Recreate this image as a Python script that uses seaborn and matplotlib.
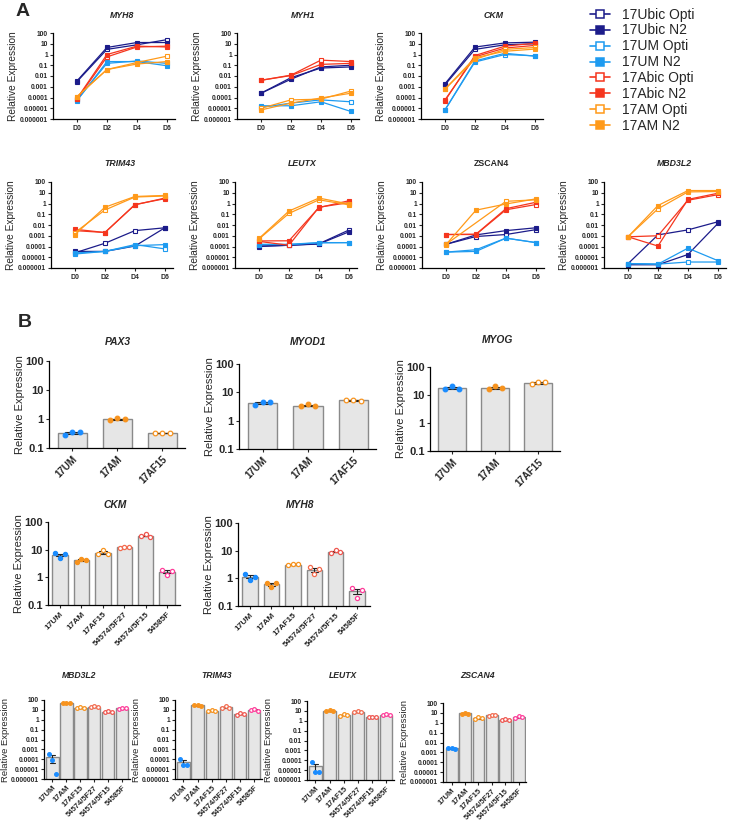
import numpy as np
import pandas as pd
import seaborn as sns
import matplotlib
matplotlib.use('Agg')
import matplotlib.pyplot as plt
from matplotlib.lines import Line2D

sns.set_style('ticks')
plt.rcParams['font.family'] = ['Liberation Sans', 'DejaVu Sans']

W, H = 739, 825

# ---------------- panel A data ----------------
days = ['D0', 'D2', 'D4', 'D6']
series = ['17Ubic Opti', '17Ubic N2', '17UM Opti', '17UM N2',
          '17Abic Opti', '17Abic N2', '17AM Opti', '17AM N2']
series_colors = ['#1c1c8a', '#1c1c8a', '#1e9bf0', '#1e9bf0',
                 '#f5361e', '#f5361e', '#ff9a1a', '#ff9a1a']
series_open = [True, False, True, False, True, False, True, False]

myh8 = [[0.003, 3, 8, 24], [0.0035, 4.5, 13, 13],
        [6e-5, 0.15, 0.25, 0.15], [5e-5, 0.22, 0.22, 0.09],
        [7e-5, 0.6, 5, 6], [8e-5, 1.0, 6, 5],
        [1.2e-4, 0.04, 0.18, 0.7], [1.2e-4, 0.04, 0.13, 0.22]]
myh1 = [[2.5e-4, 0.005, 0.07, 0.1], [2.5e-4, 0.007, 0.055, 0.07],
        [1.2e-5, 3e-5, 6e-5, 4e-5], [1.7e-5, 1.7e-5, 4e-5, 5e-6],
        [0.004, 0.012, 0.3, 0.22], [0.004, 0.011, 0.12, 0.15],
        [1e-5, 6e-5, 7e-5, 4e-4], [7e-6, 3e-5, 9e-5, 2.5e-4]]
ckm_a = [[0.0015, 3, 8, 10], [0.0019, 4.9, 12, 14],
         [7e-6, 0.2, 1.0, 0.75], [7e-6, 0.25, 1.3, 0.7],
         [6e-5, 0.6, 4, 7], [5e-5, 0.8, 6, 11],
         [6e-4, 0.35, 3, 4.5], [6e-4, 0.5, 2, 3.2]]
trim43_a = [[2.6e-5, 2e-4, 0.003, 0.0055], [3.5e-5, 3.5e-5, 1.1e-4, 0.0055],
            [2.5e-5, 3.5e-5, 1.5e-4, 6e-5], [2e-5, 3.5e-5, 1.2e-4, 1.5e-4],
            [0.003, 0.002, 0.8, 2.8], [0.004, 0.002, 0.75, 3.2],
            [0.002, 0.25, 4, 5], [0.0013, 0.45, 4.5, 5.6]]
leutx_a = [[1e-4, 1.3e-4, 1.8e-4, 3.4e-3], [1.1e-4, 1.3e-4, 1.7e-4, 2.3e-3],
           [1.5e-4, 1.6e-4, 2.3e-4, 2.3e-4], [1.6e-4, 1.5e-4, 2.2e-4, 2.3e-4],
           [3e-4, 1.3e-4, 0.45, 1.2], [3.3e-4, 3.4e-4, 0.42, 1.8],
           [5e-4, 0.12, 2.2, 0.75], [5.6e-4, 0.2, 3.2, 0.9]]
zscan4_a = [[1.6e-4, 8.5e-4, 1.3e-3, 3.7e-3], [1.6e-4, 1.2e-3, 3e-3, 5.5e-3],
            [3e-5, 5e-5, 6e-4, 2.3e-4], [3e-5, 3.5e-5, 6e-4, 2.3e-4],
            [1.3e-3, 1.3e-3, 0.26, 0.8], [1.3e-3, 1.4e-3, 0.33, 1.3],
            [1.6e-4, np.nan, 1.6, 2.2], [1.5e-4, 0.24, 0.9, 2.7]]
mbd3l2_a = [[2.5e-6, 1.2e-3, 3.5e-3, 0.02], [2e-6, 2e-6, 1.8e-5, 0.014],
            [2.6e-6, 2.3e-6, 3.6e-6, 3.6e-6], [2.6e-6, 2.3e-6, 7e-5, 4.8e-6],
            [8e-4, 1e-3, 2, 6.6], [8e-4, 1.1e-4, 2.4, 9],
            [8e-4, 0.32, 12, 13], [8e-4, 0.65, 16, 16]]

# ---------------- panel B data ----------------
groups3 = ['17UM', '17AM', '17AF15']
groups6 = ['17UM', '17AM', '17AF15', '54574/5F27', '54574/5F15', '54585F']
group_colors = {'17UM': '#1a8cff', '17AM': '#f7931e', '17AF15': '#f7931e',
                '54574/5F27': '#f26b4f', '54574/5F15': '#ef5750', '54585F': '#ff3d9a'}
group_open = {'17UM': False, '17AM': False, '17AF15': True,
              '54574/5F27': True, '54574/5F15': True, '54585F': True}

pax3 = [[0.29, 0.36, 0.36], [0.95, 1.05, 0.97], [0.32, 0.34, 0.33]]
myod1 = [[3.7, 4.6, 4.6], [3.2, 3.8, 3.2], [5.2, 5.2, 5.1]]
myog = [[16, 21, 17], [16, 21, 17.5], [24, 30, 28]]
ckm_b = [[7.6, 5.2, 6.8], [3.6, 4.6, 4.2], [6.8, 9.4, 7.2],
         [11.6, 12.7, 12], [31, 36, 29], [1.9, 1.2, 1.7]]
myh8_b = [[1.4, 0.9, 1.1], [0.66, 0.48, 0.66], [3, 3.2, 3.2],
          [2.5, 1.4, 2.2], [8.4, 10.2, 9], [0.43, 0.19, 0.39]]
mbd3l2_b = [[3.7e-4, 8e-5, 3.5e-6], [45, 52, 45], [15, 19, 16],
            [19, 25, 20], [6, 7, 6], [13, 17, 14]]
trim43_b = [[1e-4, 2.7e-5, 2.7e-5], [28, 33, 26], [7.5, 10, 8],
            [16, 22, 16], [3.4, 4.5, 3.6], [9.5, 12, 8]]
leutx_b = [[6e-5, 7e-6, 7e-6], [9.5, 11, 9.5], [3.4, 4.6, 3.6],
           [7.5, 10, 8], [2.6, 2.6, 2.5], [3.6, 4.3, 3.6]]
zscan4_b = [[0.0025, 0.003, 0.002], [8.5, 9.5, 8.5], [2.5, 3.6, 2.8],
            [5.4, 6.8, 5.6], [1.9, 2.3, 1.7], [3, 4.3, 3.6]]

fig = plt.figure(figsize=(W / 100, H / 100), dpi=100)


def px_axes(left, top, right, bottom):
    return fig.add_axes([left / W, 1 - bottom / H, (right - left) / W, (bottom - top) / H])


def px_text(x, y, s, **kw):
    fig.text(x / W, 1 - y / H, s, ha='center', va='center', **kw)


def log_ticks(ax, lo, hi, fs):
    exps = list(range(lo, hi + 1))
    labels = ['%g' % 10 ** e if e >= -4 else ('0.' + '0' * (-e - 1) + '1') for e in exps]
    ax.set_yscale('log')
    ax.set_ylim(10 ** lo, 10 ** hi)
    ax.set_yticks([10.0 ** e for e in exps], labels)
    ax.minorticks_off()
    ax.tick_params(axis='y', labelsize=fs, length=2.5, width=0.8, pad=1.2)
    for t in ax.get_yticklabels():
        t.set_fontweight('bold')


def style_spines(ax):
    sns.despine(ax=ax)
    for s in ['left', 'bottom']:
        ax.spines[s].set_linewidth(0.9)
        ax.spines[s].set_color('black')


def line_panel(box, title, tx, ty, values, italic=True):
    ax = px_axes(*box)
    rows = []
    for name, vals in zip(series, values):
        for d, v in enumerate(vals):
            if not np.isnan(v):
                rows.append((name, d, v))
    df = pd.DataFrame(rows, columns=['series', 'day', 'value'])
    for i, name in enumerate(series):
        c = series_colors[i]
        sns.lineplot(data=df[df.series == name], x='day', y='value', ax=ax,
                     color=c, marker='s', markersize=3.3, linewidth=0.9,
                     markerfacecolor='white' if series_open[i] else c,
                     markeredgecolor=c, markeredgewidth=0.8)
    log_ticks(ax, -6, 2, 4.8)
    ax.set_xlim(-0.8, 3.27)
    ax.set_xticks(range(4), days)
    ax.tick_params(axis='x', labelsize=5, length=2.5, width=0.8, pad=2)
    for t in ax.get_xticklabels():
        t.set_fontweight('bold')
    ax.set_xlabel('')
    ax.set_ylabel('Relative Expression', fontsize=7.3, labelpad=1)
    style_spines(ax)
    px_text(tx, ty, title, fontsize=6.3, fontweight='bold',
            style='italic' if italic else 'normal')
    return ax


def bar_panel(box, title, tx, ty, labels, reps, xlim, lo, fs_tick, fs_x, fs_lab,
              width, spread, msize):
    ax = px_axes(*box)
    df = pd.DataFrame({'group': np.repeat(labels, 3), 'value': np.concatenate(reps)})
    sns.barplot(data=df, x='group', y='value', order=labels, ax=ax,
                color='#e6e6e6', saturation=1, edgecolor='#8a8a8a', linewidth=1.0,
                width=width, errorbar='se', capsize=0.35,
                err_kws={'linewidth': 0.8, 'color': '#222222'})
    for i, g in enumerate(labels):
        c = group_colors[g]
        xs = i + np.array([-spread, 0, spread])
        ax.scatter(xs, reps[i], s=msize, zorder=5, linewidths=0.9,
                   facecolors='white' if group_open[g] else c, edgecolors=c)
    log_ticks(ax, lo, 2, fs_tick)
    ax.set_xlim(*xlim)
    ax.set_xticks(range(len(labels)), labels)
    ax.tick_params(axis='x', length=2.5, width=0.8, pad=1.5)
    for t in ax.get_xticklabels():
        t.set_rotation(45)
        t.set_ha('right')
        t.set_rotation_mode('anchor')
        t.set_fontweight('bold')
        t.set_fontsize(fs_x)
    ax.set_xlabel('')
    ax.set_ylabel('Relative Expression', fontsize=fs_lab, labelpad=0.5)
    style_spines(ax)
    px_text(tx, ty, title, fontsize=min(fs_lab - 0.6, 7.4), fontweight='bold', style='italic')
    return ax


# ---- panel A ----
line_panel((53, 33, 175, 119), 'MYH8', 122, 15, myh8)
line_panel((237, 33, 359, 119), 'MYH1', 303, 15, myh1)
line_panel((421, 33, 543, 119), 'CKM', 494, 15, ckm_a)
line_panel((51, 182, 173, 268), 'TRIM43', 120, 163, trim43_a)
line_panel((235, 182, 357, 268), 'LEUTX', 302, 163, leutx_a)
line_panel((422, 182, 544, 268), 'ZSCAN4', 491, 163, zscan4_a, italic=False)
line_panel((604, 182, 726, 268), 'MBD3L2', 674, 163, mbd3l2_a)

handles = [Line2D([0], [0], color=c, marker='s', markersize=5.5, linewidth=1.2,
                  markerfacecolor='white' if o else c, markeredgecolor=c, markeredgewidth=1.1)
           for c, o in zip(series_colors, series_open)]
fig.legend(handles, series, loc='upper left', bbox_to_anchor=(584 / W, 1 - 2 / H),
           frameon=False, fontsize=10, labelspacing=0.14, handlelength=1.5,
           handletextpad=0.8, borderaxespad=0)

# ---- panel B ----
bar_panel((49, 361, 185, 448), 'PAX3', 118, 342, groups3, pax3, (-0.52, 2.5), -1,
          8, 7, 8, 0.65, 0.16, 11)
bar_panel((239, 364, 376, 449), 'MYOD1', 308, 342, groups3, myod1, (-0.52, 2.5), -1,
          8, 7, 8, 0.65, 0.16, 11)
bar_panel((430, 367, 560, 451), 'MYOG', 497, 340, groups3, myog, (-0.52, 2.5), -1,
          8, 7, 8, 0.65, 0.16, 11)
bar_panel((48, 522, 180, 605), 'CKM', 115, 505, groups6, ckm_b, (-0.56, 5.6), -1,
          8, 6, 8, 0.72, 0.22, 9)
bar_panel((238, 523, 370, 606), 'MYH8', 300, 505, groups6, myh8_b, (-0.56, 5.6), -1,
          8, 6, 8, 0.72, 0.22, 9)
bar_panel((44, 700, 130, 779), 'MBD3L2', 79, 676, groups6, mbd3l2_b, (-0.6, 5.55), -6,
          4.8, 5.5, 6.8, 0.88, 0.25, 7)
bar_panel((175, 700, 262, 779), 'TRIM43', 217, 676, groups6, trim43_b, (-0.6, 5.55), -6,
          4.8, 5.5, 6.8, 0.88, 0.25, 7)
bar_panel((307, 701, 394, 780), 'LEUTX', 343, 676, groups6, leutx_b, (-0.6, 5.55), -6,
          4.8, 5.5, 6.8, 0.88, 0.25, 7)
bar_panel((443, 703, 526, 782), 'ZSCAN4', 477, 676, groups6, zscan4_b, (-0.65, 5.55), -6,
          4.8, 5.5, 6.8, 0.88, 0.25, 7)

px_text(23, 12, 'A', fontsize=14, fontweight='bold')
px_text(25, 322, 'B', fontsize=14, fontweight='bold')

fig.savefig('out.png', dpi=100, facecolor='white')
